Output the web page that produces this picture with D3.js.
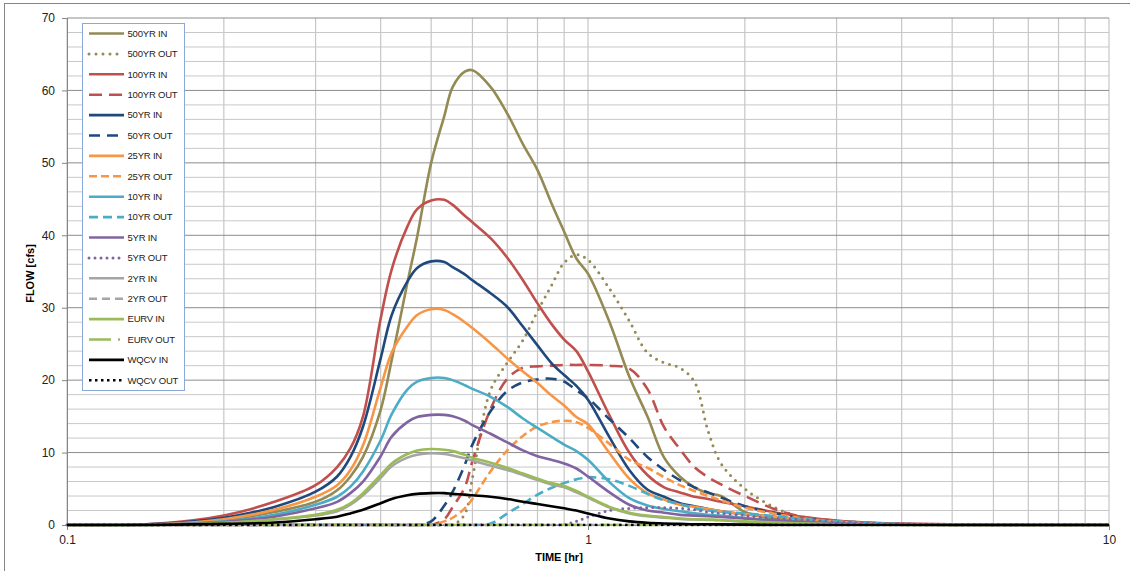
<!DOCTYPE html>
<meta charset="utf-8">
<style>
  body { margin: 0; background: #fff; }
  text { font-family: "Liberation Sans", Arial, sans-serif; }
  .line { fill: none; }
</style>
<body>
<script src="https://cdn.jsdelivr.net/npm/d3@7"></script>
<script>

// time axis (hr), shared by every series
var times = [0.1, 0.15, 0.2, 0.25, 0.3, 0.33, 0.35, 0.37, 0.4, 0.42, 0.45, 0.47,
             0.5, 0.53, 0.55, 0.58, 0.6, 0.65, 0.7, 0.75, 0.8, 0.85, 0.9, 0.95,
             1.0, 1.1, 1.2, 1.3, 1.4, 1.5, 1.6, 1.7, 1.8, 2.0, 2.3, 2.6, 3.0, 3.5, 4, 5, 7, 10];

// flows (cfs)
var in500  = [0, 0.1, 0.7, 1.8, 3.2, 4.8, 6.7, 9.4, 15.9, 22.8, 33.4, 39.8,
              50, 56.5, 60.5, 62.6, 62.8, 60.5, 56.8, 52.6, 49, 44.5, 40.5, 36.8,
              34.7, 28, 20.5, 15, 9.3, 6.7, 5.2, 4.4, 4.0, 1.8, 0.8, 0.4, 0.2, 0.1, 0.05, 0, 0, 0];
var out500 = [0, 0, 0, 0, 0, 0, 0, 0, 0, 0, 0, 0,
              0, 0, 0, 1.5, 6.5, 18.6, 22.4, 25.5, 29.5, 33, 36.2, 37.3,
              36.6, 32.6, 28.2, 23.8, 22.4, 21.7, 19.8, 13, 8.5, 5, 2.3, 1.0, 0.4, 0.15, 0.05, 0, 0, 0];
var in100  = [0, 0.2, 1.3, 3.2, 5.5, 8.0, 10.6, 15.0, 28.5, 35.3, 41.2, 43.6,
              44.8, 44.9, 44.2, 42.7, 41.8, 39.6, 36.9, 33.8, 30.6, 27.8, 25.6, 24.0,
              21.2, 15.1, 10, 6.9, 5.2, 4.5, 3.9, 3.6, 3.2, 2.6, 1.7, 1.1, 0.6, 0.3, 0.2, 0.1, 0, 0];
var out100 = [0, 0, 0, 0, 0, 0, 0, 0, 0, 0, 0, 0,
              0, 0.8, 2.5, 5.2, 8.8, 16, 20.2, 21.7, 21.9, 22, 22.1, 22.1,
              22.1, 22, 21.6, 18.8, 13.5, 10.5, 8.0, 6.6, 5.6, 4.0, 2.1, 1.1, 0.6, 0.3, 0.15, 0.05, 0, 0];
var in50   = [0, 0.15, 1.0, 2.5, 4.6, 6.7, 9.4, 13.6, 23.0, 29.0, 33.6, 35.5,
              36.4, 36.3, 35.6, 34.6, 33.8, 32, 30.1, 27.4, 24.8, 22.4, 20.7, 19.2,
              17.3, 12.1, 7.6, 4.9, 3.9, 3.0, 2.6, 2.2, 1.9, 1.5, 1.1, 0.7, 0.4, 0.2, 0.1, 0, 0, 0];
var out50  = [0, 0, 0, 0, 0, 0, 0, 0, 0, 0, 0, 0,
              0.5, 2.7, 4.6, 8.3, 11.1, 15.7, 18.5, 19.7, 20.1, 20.2, 19.8, 18.6,
              17.5, 14.6, 12.0, 9.4, 7.6, 6.2, 5.2, 4.5, 3.8, 2.6, 1.6, 0.9, 0.5, 0.2, 0.1, 0, 0, 0];
var in25   = [0, 0.1, 0.8, 2.1, 3.9, 5.5, 7.6, 11.0, 19.0, 23.8, 27.4, 29.0,
              29.8, 29.7, 29.1, 28.0, 27.2, 25.1, 23, 21.2, 19.6, 17.9, 16.5, 14.9,
              13.9, 9.9, 6.4, 4.4, 3.5, 2.8, 2.5, 2.2, 1.9, 1.5, 1.1, 0.7, 0.4, 0.2, 0.1, 0, 0, 0];
var out25  = [0, 0, 0, 0, 0, 0, 0, 0, 0, 0, 0, 0,
              0, 0.5, 1.0, 2.3, 3.6, 7.4, 10.3, 12.3, 13.6, 14.2, 14.4, 14.2,
              13.4, 11.2, 9.0, 7.9, 6.6, 5.5, 4.7, 4.0, 3.4, 2.4, 1.5, 0.9, 0.5, 0.2, 0.1, 0, 0, 0];
var in10   = [0, 0.05, 0.5, 1.4, 2.8, 3.9, 5.3, 7.4, 11.7, 15.3, 18.7, 19.8,
              20.3, 20.3, 20.0, 19.3, 18.8, 17.7, 16.3, 14.7, 13.4, 12.2, 11.1, 10.2,
              9.0, 5.9, 3.7, 2.7, 2.2, 1.9, 1.6, 1.4, 1.3, 0.95, 0.6, 0.4, 0.2, 0.1, 0.05, 0, 0, 0];
var out10  = [0, 0, 0, 0, 0, 0, 0, 0, 0, 0, 0, 0,
              0, 0, 0, 0, 0, 0.2, 1.6, 2.9, 4.2, 5.1, 5.8, 6.3,
              6.6, 6.3, 5.4, 4.3, 3.4, 2.9, 2.3, 2.0, 1.8, 1.6, 1.2, 0.8, 0.5, 0.3, 0.15, 0.05, 0, 0];
var in5    = [0, 0.05, 0.4, 1.15, 2.3, 3.2, 4.4, 6.0, 9.5, 12.2, 14.2, 14.9,
              15.2, 15.2, 15.0, 14.4, 13.8, 12.6, 11.4, 10.3, 9.5, 9.0, 8.5, 7.8,
              6.7, 4.5, 2.8, 2.0, 1.7, 1.4, 1.3, 1.2, 1.1, 0.9, 0.6, 0.4, 0.2, 0.1, 0.05, 0, 0, 0];
var out5   = [0, 0, 0, 0, 0, 0, 0, 0, 0, 0, 0, 0,
              0, 0, 0, 0, 0, 0, 0, 0, 0, 0, 0.05, 0.5,
              1.1, 2.0, 2.3, 2.4, 2.4, 2.3, 2.1, 1.8, 1.6, 1.3, 0.9, 0.7, 0.4, 0.25, 0.15, 0.05, 0, 0];
var in2    = [0, 0.03, 0.25, 0.75, 1.3, 1.9, 2.8, 4.1, 6.5, 8.1, 9.3, 9.7,
              9.9, 9.8, 9.6, 9.2, 8.9, 8.2, 7.6, 6.9, 6.2, 5.6, 5.2, 4.5,
              3.8, 2.4, 1.6, 1.2, 1.0, 0.85, 0.75, 0.7, 0.65, 0.45, 0.3, 0.2, 0.1, 0.05, 0, 0, 0, 0];
var out2   = [0, 0, 0, 0, 0, 0, 0, 0, 0, 0, 0, 0,
              0, 0, 0, 0, 0, 0, 0, 0, 0, 0, 0, 0,
              0, 0, 0, 0, 0, 0, 0, 0, 0, 0, 0, 0, 0, 0, 0, 0, 0, 0];
var inEurv = [0, 0.03, 0.3, 0.8, 1.4, 2.1, 3.0, 4.4, 6.9, 8.5, 9.8, 10.3,
              10.5, 10.4, 10.2, 9.7, 9.3, 8.6, 7.9, 7.1, 6.4, 5.8, 5.4, 4.7,
              3.9, 2.5, 1.7, 1.3, 1.1, 0.9, 0.8, 0.75, 0.7, 0.5, 0.35, 0.2, 0.1, 0.05, 0, 0, 0, 0];
var outEurv = [0, 0, 0, 0, 0, 0, 0, 0, 0, 0, 0, 0,
              0, 0, 0, 0, 0, 0, 0, 0, 0, 0, 0, 0,
              0, 0, 0, 0, 0, 0, 0, 0, 0, 0, 0, 0, 0, 0, 0, 0, 0, 0];
var inWqcv = [0, 0.02, 0.15, 0.35, 0.8, 1.15, 1.6, 2.1, 3.0, 3.6, 4.1, 4.3,
              4.4, 4.4, 4.3, 4.2, 4.1, 3.9, 3.6, 3.2, 2.9, 2.6, 2.3, 2.0,
              1.6, 0.9, 0.5, 0.3, 0.2, 0.15, 0.1, 0.1, 0.08, 0.05, 0, 0, 0, 0, 0, 0, 0, 0];
var outWqcv = [0, 0, 0, 0, 0, 0, 0, 0, 0, 0, 0, 0,
              0, 0, 0, 0, 0, 0, 0, 0, 0, 0, 0, 0,
              0, 0, 0, 0, 0, 0, 0, 0, 0, 0, 0, 0, 0, 0, 0, 0, 0, 0];

var names = ["500YR IN", "500YR OUT", "100YR IN", "100YR OUT", "50YR IN", "50YR OUT",
             "25YR IN", "25YR OUT", "10YR IN", "10YR OUT", "5YR IN", "5YR OUT",
             "2YR IN", "2YR OUT", "EURV IN", "EURV OUT", "WQCV IN", "WQCV OUT"];
var values = [in500, out500, in100, out100, in50, out50, in25, out25, in10, out10,
              in5, out5, in2, out2, inEurv, outEurv, inWqcv, outWqcv];

var yTicks = [0, 10, 20, 30, 40, 50, 60, 70];
var xTicks = [0.1, 1, 10];

// styles per series
var colors = ["#948A54", "#948A54", "#C0504D", "#C0504D", "#1F497D", "#1F497D",
              "#F79646", "#F79646", "#4BACC6", "#4BACC6", "#8064A2", "#8064A2",
              "#A5A5A5", "#A5A5A5", "#9BBB59", "#9BBB59", "#000000", "#000000"];
var dashes = [null, "0,7", null, "13,7", null, "11,7", null, "8,4", null, "9,5",
              null, "0,6", null, "8,5", null, "22,7,2,7", null, "2.5,3.5"];
var caps = ["butt", "round", "butt", "butt", "butt", "butt", "butt", "butt", "butt", "butt",
            "butt", "round", "butt", "butt", "butt", "butt", "butt", "butt"];

var W = 1130, H = 571;
var svg = d3.select("body").append("svg").attr("width", W).attr("height", H);

// outer chart border
svg.append("rect")
    .attr("x", 4.5).attr("y", 3.5).attr("width", W).attr("height", H)
    .attr("fill", "none").attr("stroke", "#868686");

var x = d3.scaleLog().domain([0.1, 10]).range([67, 1109]);
var y = d3.scaleLinear().domain([0, 70]).range([525, 18]);

// clip so smoothed lines never dip under the zero line
svg.append("clipPath").attr("id", "plotclip")
  .append("rect")
    .attr("x", x(0.1) - 2).attr("y", y(70) - 5)
    .attr("width", x(10) - x(0.1) + 4).attr("height", y(0) - y(70) + 6.5);

// gridlines
svg.append("g").selectAll("line")
    .data(x.ticks())
  .enter().append("line")
    .attr("x1", function(d) { return x(d); }).attr("x2", function(d) { return x(d); })
    .attr("y1", y(70)).attr("y2", y(0))
    .attr("stroke", "#c6c6c6").attr("stroke-width", 1.2);

svg.append("g").selectAll("line")
    .data(d3.range(0, 71, 2))
  .enter().append("line")
    .attr("x1", x(0.1)).attr("x2", x(10))
    .attr("y1", function(d) { return y(d); }).attr("y2", function(d) { return y(d); })
    .attr("stroke", function(d) { return d % 10 === 0 ? "#8c8c8c" : "#c8c8c8"; })
    .attr("stroke-width", 1);

// axes
var yAxis = svg.append("g")
    .attr("transform", "translate(" + x(0.1) + ",0)")
    .call(d3.axisLeft(y).tickValues(yTicks).tickSize(5).tickPadding(7));
var xAxis = svg.append("g")
    .attr("transform", "translate(0," + y(0) + ")")
    .call(d3.axisBottom(x).tickValues(xTicks).tickFormat(d3.format("~g")).tickSize(5).tickPadding(5));
[yAxis, xAxis].forEach(function(a) {
  a.selectAll("path, line").attr("stroke", "#868686");
  a.selectAll("text").attr("font-size", 12).attr("fill", "#222")
    .attr("font-family", "'Liberation Sans', Arial, sans-serif");
});

svg.append("text")
    .attr("transform", "translate(34," + ((y(0) + y(70)) / 2 + 2) + ") rotate(-90)")
    .attr("text-anchor", "middle")
    .attr("font-size", 11).attr("font-weight", "bold")
    .text("FLOW [cfs]");
svg.append("text")
    .attr("x", 559).attr("y", 561)
    .attr("text-anchor", "middle")
    .attr("font-size", 11).attr("font-weight", "bold")
    .text("TIME [hr]");

// series lines, smoothed like the spreadsheet's curves
var line = d3.line()
    .x(function(d) { return x(d[0]); })
    .y(function(d) { return y(d[1]); })
    .curve(d3.curveCatmullRom.alpha(0.5));

var series = names.map(function(n, i) {
  return { name: n, color: colors[i], dash: dashes[i], cap: caps[i],
           pts: times.map(function(t, j) { return [t, values[i][j]]; }) };
});

svg.append("g").attr("clip-path", "url(#plotclip)")
  .selectAll("path")
    .data(series)
  .enter().append("path")
    .attr("class", "line")
    .attr("d", function(d) { return line(d.pts); })
    .attr("stroke", function(d) { return d.color; })
    .attr("stroke-width", function(d) { return d.cap === "round" ? 3 : 2.6; })
    .attr("stroke-dasharray", function(d) { return d.dash; })
    .attr("stroke-linecap", function(d) { return d.cap; });

// legend
var legend = svg.append("g");
legend.append("rect")
    .attr("x", 82.5).attr("y", 23.5).attr("width", 102).attr("height", 367)
    .attr("fill", "#fff").attr("stroke", "#8aa9d8");

var items = legend.selectAll("g.item")
    .data(series)
  .enter().append("g")
    .attr("class", "item")
    .attr("transform", function(d, i) { return "translate(0," + (33.5 + i * 20.4) + ")"; });
items.append("line")
    .attr("x1", 89).attr("x2", 124)
    .attr("stroke", function(d) { return d.color; })
    .attr("stroke-width", function(d) { return d.cap === "round" ? 3 : 2.6; })
    .attr("stroke-dasharray", function(d) { return d.dash; })
    .attr("stroke-linecap", function(d) { return d.cap; });
items.append("text")
    .attr("x", 127.5).attr("dy", "0.35em")
    .attr("font-size", 9.5).attr("letter-spacing", -0.2).attr("fill", "#222")
    .text(function(d) { return d.name; });

</script>
</body>
